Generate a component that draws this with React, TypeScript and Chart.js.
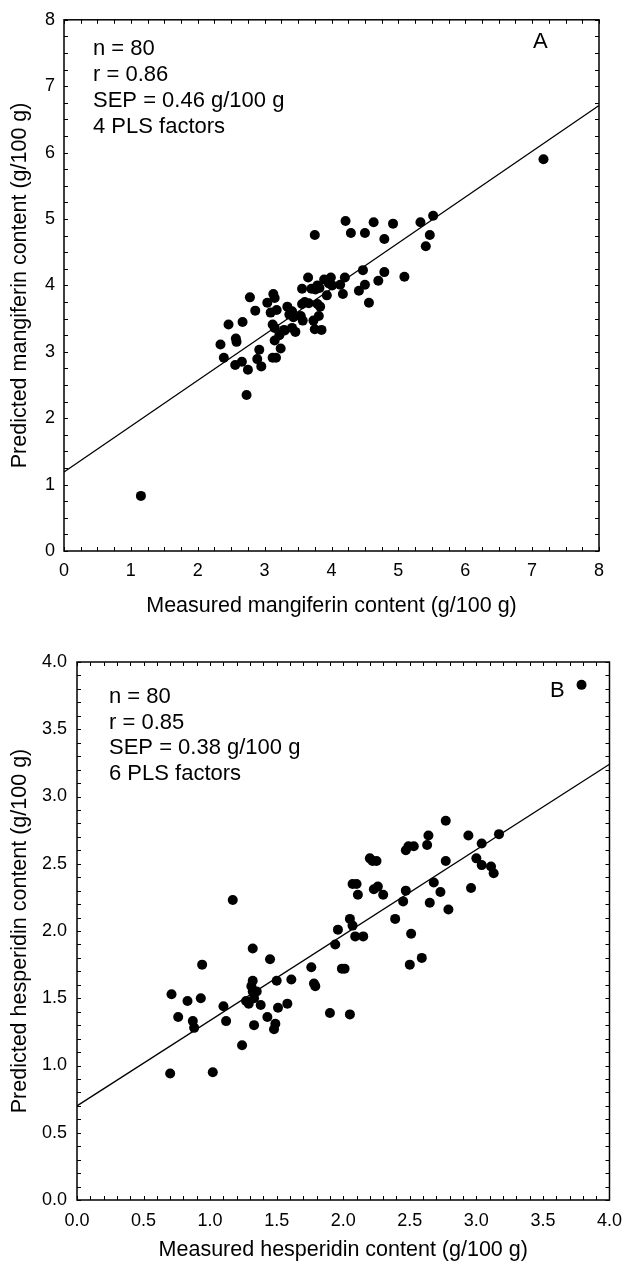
import React, { useEffect, useRef } from "react";
import { Chart, registerables } from "chart.js";

Chart.register(...registerables);

// ---------- Panel A: mangiferin ----------
const mangMeasured = [
  1.15, 7.17, 2.34, 2.39, 2.46, 2.57, 2.58, 2.56, 2.67, 2.66, 2.75, 2.73, 2.78, 2.86, 2.92, 2.89,
  2.95, 3.04, 3.13, 3.15, 3.09, 3.18, 3.12, 3.15, 3.12, 3.17, 3.15, 3.22, 3.24, 3.29, 3.34, 3.37,
  3.41, 3.43, 3.41, 3.46, 3.54, 3.57, 3.56, 3.56, 3.65, 3.66, 3.75, 3.7, 3.76, 3.79, 3.73, 3.75,
  3.81, 3.83, 3.79, 3.85, 3.89, 3.93, 3.96, 3.99, 4.01, 4.13, 4.2, 4.17, 4.21, 4.29, 4.41, 4.47,
  4.5, 4.5, 4.56, 4.63, 4.7, 4.79, 4.79, 4.92, 5.09, 5.33, 5.41, 5.47, 5.52, 3.82, 3.3, 3.6,
];
const mangPredicted = [
  0.83, 5.9, 3.11, 2.91, 3.41, 3.2, 3.15, 2.8, 3.45, 2.85, 2.73, 2.35, 3.82, 3.62, 3.03, 2.89,
  2.78, 3.74, 3.87, 3.81, 3.59, 3.63, 3.41, 3.36, 2.91, 2.91, 3.17, 3.25, 3.05, 3.33, 3.68, 3.56,
  3.61, 3.52, 3.36, 3.3, 3.54, 3.47, 3.95, 3.72, 4.12, 3.73, 4.76, 3.95, 3.94, 4.0, 3.47, 3.34,
  3.54, 3.68, 3.72, 3.33, 4.09, 3.85, 4.03, 4.12, 4.0, 4.01, 4.12, 3.87, 4.97, 4.79, 3.92, 4.23,
  4.01, 4.79, 3.74, 4.95, 4.07, 4.2, 4.7, 4.93, 4.13, 4.95, 4.59, 4.76, 5.05, 3.96, 3.32, 3.75,
];
const mangFitX = [0, 8];
const mangFitY = [1.19, 6.71];
const mangXTicks = [0, 1, 2, 3, 4, 5, 6, 7, 8];
const mangStats = ["n = 80", "r = 0.86", "SEP = 0.46 g/100 g", "4 PLS factors"];

// ---------- Panel B: hesperidin ----------
const hespMeasured = [
  3.79, 0.71, 0.7, 0.76, 0.83, 0.87, 0.88, 0.93, 0.94, 1.02, 1.1, 1.12, 1.17, 1.24, 1.27, 1.29,
  1.32, 1.32, 1.31, 1.32, 1.33, 1.35, 1.33, 1.38, 1.45, 1.43, 1.49, 1.48, 1.5, 1.51, 1.58, 1.61,
  1.76, 1.78, 1.79, 1.9, 1.94, 1.96, 1.99, 2.01, 2.05, 2.05, 2.07, 2.07, 2.1, 2.09, 2.11, 2.15,
  2.2, 2.22, 2.25, 2.23, 2.26, 2.3, 2.39, 2.45, 2.47, 2.47, 2.49, 2.53, 2.51, 2.5, 2.59, 2.63,
  2.64, 2.65, 2.68, 2.73, 2.77, 2.77, 2.79, 2.94, 2.96, 3.0, 3.04, 3.04, 3.11, 3.13, 3.17,
];
const hespPredicted = [
  3.83, 1.53, 0.94, 1.36, 1.48, 1.33, 1.28, 1.5, 1.75, 0.95, 1.44, 1.33, 2.23, 1.15, 1.48, 1.46,
  1.87, 1.63, 1.59, 1.55, 1.5, 1.55, 1.3, 1.45, 1.79, 1.36, 1.31, 1.27, 1.63, 1.43, 1.46, 1.64,
  1.73, 1.61, 1.59, 1.39, 1.9, 2.01, 1.72, 1.72, 1.38, 2.09, 2.04, 2.35, 2.35, 1.96, 2.27, 1.96,
  2.54, 2.52, 2.52, 2.31, 2.33, 2.27, 2.09, 2.22, 2.3, 2.6, 2.63, 2.63, 1.98, 1.75, 1.8, 2.64,
  2.71, 2.21, 2.36, 2.29, 2.82, 2.52, 2.16, 2.71, 2.32, 2.54, 2.65, 2.49, 2.48, 2.43, 2.72,
];
const hespFitX = [0, 4];
const hespFitY = [0.7, 3.24];
const hespStats = ["n = 80", "r = 0.85", "SEP = 0.38 g/100 g", "6 PLS factors"];

const FONT = '"Liberation Sans", Arial, Helvetica, sans-serif';

const framePlugin = {
  id: "frame",
  afterDraw(chart: any, _args: any, opts: any) {
    const { ctx, chartArea: a, scales } = chart;
    const xs = scales.x;
    const ys = scales.y;
    const L = 4;
    ctx.save();
    ctx.strokeStyle = "#000";
    ctx.lineWidth = 1;
    const nx = Math.round((xs.max - xs.min) / opts.minorX);
    for (let i = 0; i <= nx; i++) {
      const px = Math.round(xs.getPixelForValue(xs.min + i * opts.minorX)) + 0.5;
      ctx.beginPath();
      ctx.moveTo(px, a.bottom);
      ctx.lineTo(px, a.bottom - L);
      ctx.moveTo(px, a.top);
      ctx.lineTo(px, a.top + L);
      ctx.stroke();
    }
    const ny = Math.round((ys.max - ys.min) / opts.minorY);
    for (let i = 0; i <= ny; i++) {
      const py = Math.round(ys.getPixelForValue(ys.min + i * opts.minorY)) + 0.5;
      ctx.beginPath();
      ctx.moveTo(a.left, py);
      ctx.lineTo(a.left + L, py);
      ctx.moveTo(a.right, py);
      ctx.lineTo(a.right - L, py);
      ctx.stroke();
    }
    ctx.lineWidth = 1.5;
    ctx.strokeRect(a.left, a.top, a.right - a.left, a.bottom - a.top);

    ctx.fillStyle = "#000";
    ctx.font = `22px ${FONT}`;
    ctx.textAlign = "left";
    ctx.textBaseline = "alphabetic";
    opts.lines.forEach((t: string, i: number) => {
      ctx.fillText(t, a.left + opts.dx, a.top + opts.dy + i * opts.lh);
    });
    ctx.fillText(opts.panel, opts.panelX, opts.panelY);
    ctx.restore();
  },
};

function makeConfig(p: any) {
  const pts = p.mx.map((x: number, i: number) => ({ x, y: p.my[i] }));
  const fit = p.fx.map((x: number, i: number) => ({ x, y: p.fy[i] }));
  return {
    type: "scatter",
    data: {
      datasets: [
        {
          type: "line",
          data: fit,
          borderColor: "#000",
          borderWidth: 1.3,
          pointRadius: 0,
          fill: false,
          tension: 0,
          order: 2,
        },
        {
          data: pts,
          backgroundColor: "#000",
          borderColor: "#000",
          borderWidth: 0,
          pointRadius: 5,
          order: 1,
        },
      ],
    },
    options: {
      responsive: false,
      animation: false,
      devicePixelRatio: 1,
      layout: { padding: { left: 0, right: p.padRight, top: p.padTop, bottom: 0 } },
      plugins: {
        legend: { display: false },
        tooltip: { enabled: false },
        frame: p.frame,
      },
      scales: {
        x: {
          type: "linear",
          min: p.xmin,
          max: p.xmax,
          afterFit: (s: any) => {
            s.height = p.xAxisH;
          },
          grid: { display: false, drawTicks: false },
          border: { display: false },
          ticks: {
            stepSize: p.xStep,
            padding: p.xTickPad,
            color: "#000",
            maxRotation: 0,
            font: { family: FONT, size: 18 },
            callback: p.fmt,
          },
          title: {
            display: true,
            text: p.xTitle,
            color: "#000",
            font: { family: FONT, size: 21.5 },
            padding: { top: 0, bottom: p.xTitlePad },
          },
        },
        y: {
          type: "linear",
          min: p.ymin,
          max: p.ymax,
          afterFit: (s: any) => {
            s.width = p.yAxisW;
          },
          grid: { display: false, drawTicks: false },
          border: { display: false },
          ticks: {
            stepSize: p.yStep,
            padding: p.yTickPad,
            color: "#000",
            font: { family: FONT, size: 18 },
            callback: p.fmt,
          },
          title: {
            display: true,
            text: p.yTitle,
            color: "#000",
            font: { family: FONT, size: 21.5 },
            padding: { top: 7, bottom: 0 },
          },
        },
      },
    },
    plugins: [framePlugin],
  };
}

function Panel({ params, top }: { params: any; top: number }) {
  const ref = useRef<HTMLCanvasElement | null>(null);
  useEffect(() => {
    if (!ref.current) return;
    const chart = new Chart(ref.current, makeConfig(params) as any);
    return () => chart.destroy();
  }, []);
  return (
    <canvas
      ref={ref}
      width={632}
      height={632}
      style={{ position: "absolute", left: 0, top, width: 632, height: 632, display: "block" }}
    />
  );
}

const paramsA = {
  mx: mangMeasured,
  my: mangPredicted,
  fx: mangFitX,
  fy: mangFitY,
  xmin: mangXTicks[0],
  xmax: mangXTicks[mangXTicks.length - 1],
  ymin: 0,
  ymax: 8,
  xStep: 1,
  yStep: 1,
  fmt: (v: any) => String(v),
  padRight: 33,
  padTop: 18,
  xAxisH: 81,
  yAxisW: 64,
  xTickPad: 9,
  yTickPad: 9,
  xTitlePad: 13,
  xTitle: "Measured mangiferin content (g/100 g)",
  yTitle: "Predicted mangiferin content (g/100 g)",
  frame: {
    minorX: 0.25,
    minorY: 0.25,
    lines: mangStats,
    dx: 29,
    dy: 35,
    lh: 26.2,
    panel: "A",
    panelX: 533,
    panelY: 48,
  },
};

const paramsB = {
  mx: hespMeasured,
  my: hespPredicted,
  fx: hespFitX,
  fy: hespFitY,
  xmin: 0,
  xmax: 4,
  ymin: 0,
  ymax: 4,
  xStep: 0.5,
  yStep: 0.5,
  fmt: (v: any) => Number(v).toFixed(1),
  padRight: 15,
  padTop: 30,
  xAxisH: 64,
  yAxisW: 77,
  xTickPad: 10,
  yTickPad: 10,
  xTitlePad: 1,
  xTitle: "Measured hesperidin content (g/100 g)",
  yTitle: "Predicted hesperidin content (g/100 g)",
  frame: {
    minorX: 0.1,
    minorY: 0.1,
    lines: hespStats,
    dx: 32,
    dy: 41,
    lh: 25.6,
    panel: "B",
    panelX: 550,
    panelY: 65,
  },
};

export default function App() {
  return (
    <div style={{ position: "absolute", left: 0, top: 0, width: 632, height: 1264, background: "#fff" }}>
      <Panel params={paramsA} top={0} />
      <Panel params={paramsB} top={632} />
    </div>
  );
}
